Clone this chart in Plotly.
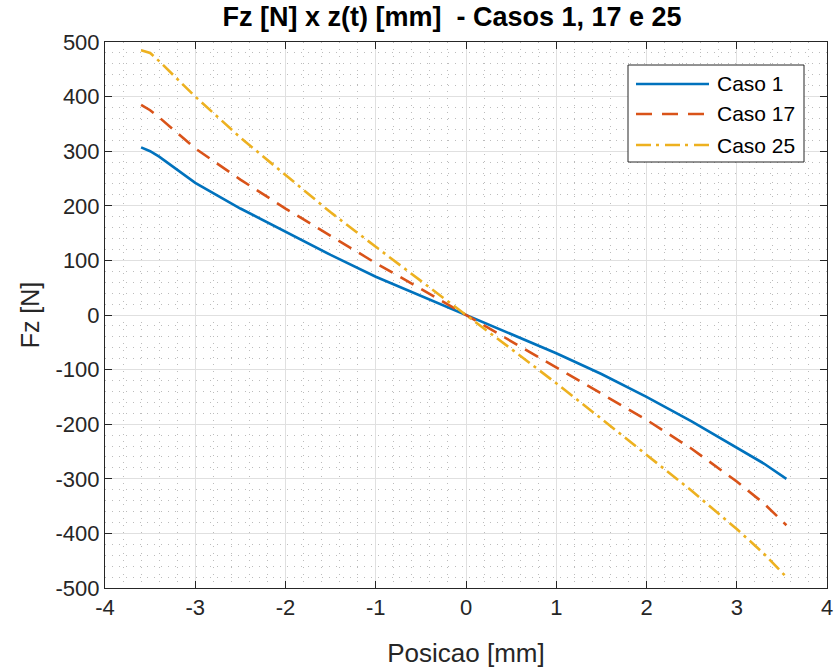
import plotly.graph_objects as go

x_pos = [-3.6, -3.5, -3.4, -3.0, -2.5, -2.0, -1.5, -1.0, -0.5, 0.0, 0.5, 1.0, 1.5, 2.0, 2.5, 3.0, 3.3, 3.55]
caso1 = [307, 300, 290, 242, 195, 152, 110, 70, 35, 0, -35, -70, -108, -150, -195, -243, -272, -300]
caso17 = [385, 375, 362, 305, 248, 195, 145, 95, 48, 0, -48, -95, -143, -192, -245, -305, -345, -385]
caso25 = [485, 480, 465, 400, 325, 256, 188, 125, 62, 0, -62, -125, -190, -256, -322, -392, -437, -480]

x_ticks = [-4, -3, -2, -1, 0, 1, 2, 3, 4]
x_tick_labels = ["-4", "-3", "-2", "-1", "0", "1", "2", "3", "4"]
y_ticks = [-500, -400, -300, -200, -100, 0, 100, 200, 300, 400, 500]
y_tick_labels = ["-500", "-400", "-300", "-200", "-100", "0", "100", "200", "300", "400", "500"]

names = ["Caso 1", "Caso 17", "Caso 25"]
values = [caso1, caso17, caso25]
colors = ["#0072BD", "#D95319", "#EDB120"]
dashes = ["solid", "15px,9px", "14px,5px,3px,5px"]
legend_dashes = ["solid", "16px,10px", "15px,5px,3px,6px"]

FONT = "Liberation Sans, Arial, Helvetica"
L, R, T, B = 105, 827, 42, 588
W, H = 836, 669

fig = go.Figure()
for name, ys, color, dash in zip(names, values, colors, dashes):
    fig.add_trace(go.Scatter(x=x_pos, y=ys, mode="lines", name=name, showlegend=False,
                             line=dict(color=color, width=2.6, dash=dash)))

axis_common = dict(
    showline=True, linecolor="#262626", linewidth=1, mirror="ticks",
    ticks="inside", ticklen=7, tickcolor="#262626",
    showgrid=True, gridcolor="#e0e0e0", gridwidth=1,
    zeroline=False, automargin=False,
    tickfont=dict(family=FONT, size=22, color="#262626"),
)

def px_x(px):
    return (px - L) / (R - L)

def px_y(py):
    return (B - py) / (B - T)

shapes = [dict(type="rect", xref="paper", yref="paper",
               x0=px_x(628), x1=px_x(804), y0=px_y(162), y1=px_y(65),
               line=dict(color="#262626", width=1), fillcolor="white", layer="above")]
annotations = []
rows = [84, 114, 145]
for name, color, dash, ry in zip(names, colors, legend_dashes, rows):
    shapes.append(dict(type="line", xref="paper", yref="paper",
                       x0=px_x(636), x1=px_x(709), y0=px_y(ry), y1=px_y(ry),
                       line=dict(color=color, width=2.6, dash=dash), layer="above"))
    annotations.append(dict(xref="paper", yref="paper", x=px_x(715), y=px_y(ry),
                            xanchor="left", yanchor="middle", showarrow=False, text=name,
                            font=dict(family=FONT, size=21, color="black")))

fig.update_layout(
    width=W, height=H,
    paper_bgcolor="white", plot_bgcolor="white",
    margin=dict(l=L, r=W - R, t=T, b=H - B, autoexpand=False),
    title=dict(text="<b>Fz [N] x z(t) [mm] \u00a0- Casos 1, 17 e 25</b>",
               x=px_x(452), xref="paper", xanchor="center", y=1 - 17 / H, yanchor="middle",
               font=dict(family=FONT, size=27, color="black")),
    xaxis=dict(range=[-4, 4], tickvals=x_ticks, ticktext=x_tick_labels,
               title=dict(text="Posicao [mm]", standoff=24,
                          font=dict(family=FONT, size=26, color="#262626")),
               minor=dict(dtick=0.2, showgrid=True, gridcolor="#bcbcbc", griddash="1px,6px", gridwidth=1),
               **axis_common),
    yaxis=dict(range=[-500, 500], tickvals=y_ticks, ticktext=y_tick_labels,
               title=dict(text="Fz [N]", standoff=8,
                          font=dict(family=FONT, size=25, color="#262626")),
               minor=dict(dtick=20, showgrid=True, gridcolor="#bcbcbc", griddash="1px,6px", gridwidth=1),
               **axis_common),
    shapes=shapes,
    annotations=annotations,
    showlegend=False,
)

fig.write_html("out.html")
